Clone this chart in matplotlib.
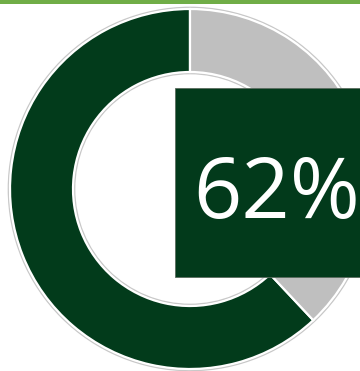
import matplotlib
matplotlib.use("Agg")
import matplotlib.pyplot as plt
from matplotlib.patches import Rectangle, Circle

labels = ["Achieved", "Remaining"]
values = [62, 38]
colors = ["#023B1B", "#BFBFBF"]
label_text = "62%"

W, H = 360, 371
fig = plt.figure(figsize=(W / 100, H / 100), dpi=100)
ax = fig.add_axes([0, 0, 1, 1])
ax.set_xlim(0, W)
ax.set_ylim(0, H)
ax.set_aspect("equal")
ax.axis("off")

cx, cy = 190, H - 189
R, ring = 180, 63

# faint gray outline around the ring
ax.add_patch(Circle((cx, cy), R + 1.5, fill=False, ec="#C8C8C8", lw=1.2, zorder=1))
ax.add_patch(Circle((cx, cy), R - ring - 1.5, fill=False, ec="#C8C8C8", lw=1.2, zorder=1))

ax.pie(values, colors=colors, startangle=90, counterclock=True,
       center=(cx, cy), radius=R, frame=True,
       wedgeprops=dict(width=ring, edgecolor="white", linewidth=1.6))
ax.set_xlim(0, W)
ax.set_ylim(0, H)
ax.axis("off")

# top green bar
ax.add_patch(Rectangle((0, H - 3.5), W, 3.5, fc="#70AD47", ec="none", zorder=5))

# label box
ax.add_patch(Rectangle((175, H - 277), 190, 189, fc="#023A1B", ec="#5A6B5E", lw=0.6, zorder=6))
ax.text(277, H - 218, label_text, color="white", fontsize=61, family="Open Sans",
        ha="center", va="baseline", zorder=7)

fig.savefig("out.png", dpi=100)
